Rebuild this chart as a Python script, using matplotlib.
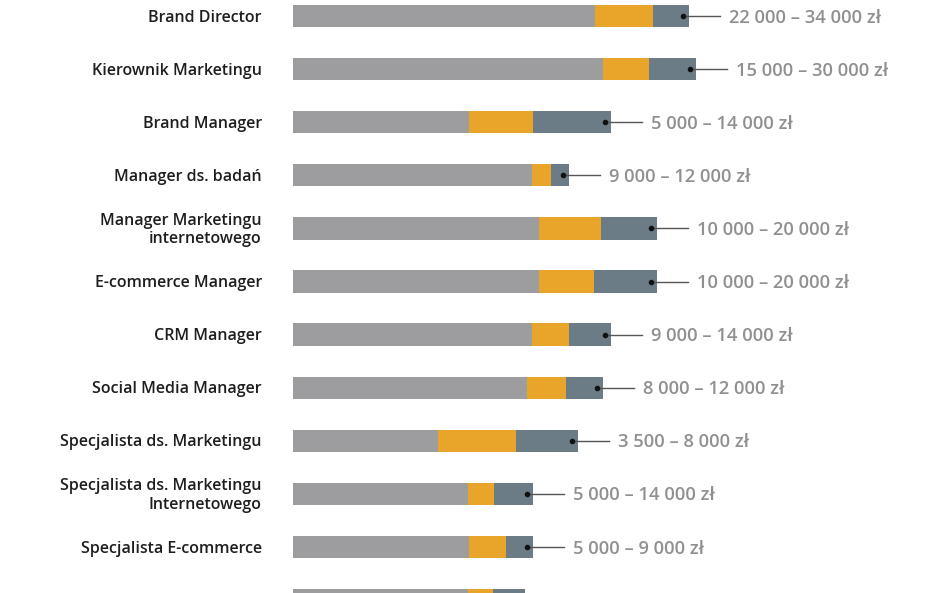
import matplotlib.pyplot as plt

# Dane: stanowiska, długości segmentów (jednostki umowne), widełki płacowe
stanowiska = ['Brand Director', 'Kierownik Marketingu', 'Brand Manager', 'Manager ds. badań',
              'Manager Marketingu\ninternetowego', 'E-commerce Manager', 'CRM Manager',
              'Social Media Manager', 'Specjalista ds. Marketingu',
              'Specjalista ds. Marketingu\nInternetowego', 'Specjalista E-commerce', '']
szary = [302, 310, 176, 239, 246, 246, 239, 234, 145, 175, 176, 175]
pomaranczowy = [58, 46, 64, 19, 62, 55, 37, 39, 78, 26, 37, 25]
ciemny = [36, 47, 78, 18, 56, 63, 42, 37, 62, 39, 27, 32]
widelki = ['22 000 – 34 000 zł', '15 000 – 30 000 zł', '5 000 – 14 000 zł', '9 000 – 12 000 zł',
           '10 000 – 20 000 zł', '10 000 – 20 000 zł', '9 000 – 14 000 zł', '8 000 – 12 000 zł',
           '3 500 – 8 000 zł', '5 000 – 14 000 zł', '5 000 – 9 000 zł', '']

plt.rcParams['font.family'] = ['Open Sans', 'DejaVu Sans']

fig = plt.figure(figsize=(9.48, 5.93), dpi=100)
ax = fig.add_axes([0, 0, 1, 1])

y = list(range(len(stanowiska)))
h = 0.42
ax.barh(y, szary, height=h, color='#9d9d9f')
ax.barh(y, pomaranczowy, left=szary, height=h, color='#e9a52a')
lewy = [a + b for a, b in zip(szary, pomaranczowy)]
ax.barh(y, ciemny, left=lewy, height=h, color='#6c7c87')

# przesunięcie tekstu w dół o ~1,5 px, żeby wyrównać z paskami
dy = 0.03

for i, (s, l, c, w) in enumerate(zip(stanowiska, lewy, ciemny, widelki)):
    koniec = l + c
    ax.text(-31, i + dy, s, ha='right', va='center', fontsize=11.5, fontweight='semibold',
            color='#1e1e1e', linespacing=1.2)
    if w:
        ax.plot([koniec - 6, koniec + 31], [i, i], color='#555555', lw=1)
        ax.plot(koniec - 6, i, 'o', color='#111111', ms=3)
        ax.text(koniec + 40, i + dy, w, ha='left', va='center', fontsize=13.2,
                fontweight='semibold', color='#909090')

ax.set_xlim(-293, 655)
ax.set_ylim((593 - 16) / 53.1, -16 / 53.1)
ax.axis('off')

fig.savefig('out.png', dpi=100)
